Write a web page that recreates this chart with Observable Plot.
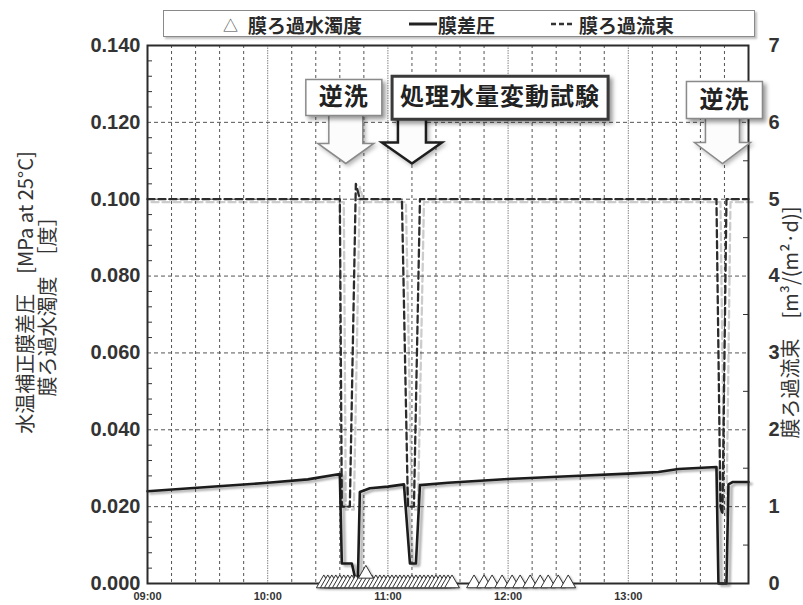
<!DOCTYPE html>
<html><head><meta charset="utf-8">
<script src="https://cdn.jsdelivr.net/npm/d3@7"></script>
<script src="https://cdn.jsdelivr.net/npm/@observablehq/plot@0.6"></script>
<style>
body{margin:0;background:#fff;}
#wrap{width:803px;position:relative;}
#legend{height:40px;position:relative;}
#legbox{position:absolute;left:163px;top:10px;width:592px;height:27px;border:1.5px solid #8a8a8a;box-sizing:border-box;box-shadow:2px 2px 2px rgba(0,0,0,0.25);font-family:"Noto Sans CJK JP";font-size:19px;font-weight:bold;color:#2a2a2a;background:#fff;}
.li{position:absolute;top:50%;transform:translateY(-50%);white-space:nowrap;line-height:1;}
g[aria-description="shadow-line"]{filter:drop-shadow(3px 2px 1.2px rgba(0,0,0,0.35));}
g[aria-description="shadow-flux"]{filter:drop-shadow(4px 3px 0.6px rgba(0,0,0,0.2));}
g[aria-description="note-box"]{filter:drop-shadow(3px 3px 2px rgba(0,0,0,0.4));}
g[aria-description="note-arrow"]{filter:drop-shadow(2px 2px 2px rgba(0,0,0,0.3));}
g[aria-description="note-text"] text{letter-spacing:1px;}
g[aria-description="turb"]{filter:drop-shadow(1px 1px 0.8px rgba(0,0,0,0.35));}
</style>
</head><body>
<div id="wrap">
  <div id="legend"><div id="legbox">
    <span class="li" style="left:59px;font-size:15px;font-weight:normal;color:#444;">△</span>
    <span class="li" style="left:84px;">膜ろ過水濁度</span>
    <span class="li" style="left:245px;"><svg width="28" height="6" style="display:block"><line x1="0" x2="28" y1="3" y2="3" stroke="#222" stroke-width="3"/></svg></span>
    <span class="li" style="left:274px;">膜差圧</span>
    <span class="li" style="left:387px;"><svg width="24" height="6" style="display:block"><line x1="0" x2="24" y1="3" y2="3" stroke="#333" stroke-width="2.5" stroke-dasharray="5,3"/></svg></span>
    <span class="li" style="left:415px;">膜ろ過流束</span>
  </div></div>
  <div id="chart"></div>
</div>
<script>
// ---- data ----
const pressureTimes = ["09:00","09:30","10:00","10:20","10:36","10:37","10:42","10:44","10:45","10:46","10:48","10:51","11:00","11:08","11:11","11:14","11:16","11:30","12:00","12:30","13:00","13:15","13:25","13:44","13:45","13:49","13:50","13:52","14:00"];
const pressureValues = [0.0240,0.0251,0.0262,0.0271,0.0285,0.0052,0.0052,0.0006,0.0006,0.0238,0.0242,0.0248,0.0252,0.0258,0.0052,0.0052,0.0256,0.0262,0.0272,0.0279,0.0286,0.0290,0.0298,0.0303,0.0000,0.0000,0.0258,0.0264,0.0264];

const fluxTimes = ["09:00","10:36","10:37","10:41","10:44","10:46","11:07","11:10","11:13","11:16","13:44","13:46","13:47","13:49","14:00"];
const fluxValues = [5.0,5.0,1.0,1.0,5.2,5.0,5.0,1.0,1.0,5.0,5.0,1.0,0.9,5.0,5.0];

const turbTimes = ["10:28","10:30","10:32","10:34","10:36","10:38","10:40","10:42","10:44","10:46","10:48","10:50","10:52","10:54","10:56","10:58","11:00","11:02","11:04","11:06","11:08","11:10","11:12","11:14","11:16","11:18","11:20","11:22","11:24","11:26","11:28","11:30","11:32","11:43","11:48","11:52","11:57","12:02","12:06","12:11","12:16","12:20","12:25","12:30","10:49"];
const turbValues = [0,0,0,0,0,0,0,0,0,0,0,0,0,0,0,0,0,0,0,0,0,0,0,0,0,0,0,0,0,0,0,0,0,0,0,0,0,0,0,0,0,0,0,0,0.0025];

const xTickLabels = ["09:00","10:00","11:00","12:00","13:00"];
const xGridMinor = ["09:12","09:24","09:36","09:48","10:12","10:24","10:36","10:48","11:12","11:24","11:36","11:48","12:12","12:24","12:36","12:48","13:12","13:24","13:36","13:48"];
const xGridHour = ["10:00","11:00","12:00","13:00"];
const yTicksLeft = [0,0.02,0.04,0.06,0.08,0.10,0.12,0.14];
const yTicksRight = [0,1,2,3,4,5,6,7];

const noteLabels = ["逆洗","処理水量変動試験","逆洗"];
const noteTimes = ["10:38","11:56","13:48"];
const noteValues = [0.1265,0.1264,0.1258];
const arrowTimes = ["10:39","11:12","13:47"];
const arrowValues = [0.1093,0.1093,0.1093];

const leftTitle1 = "水温補正膜差圧　[MPa at 25°C]";
const leftTitle2 = "膜ろ過水濁度　［度］";
const rightTitle = "膜ろ過流束　[m³/(m²·d)]";

// ---- build ----
const parse = d3.timeParse("%H:%M");
const pressure = pressureTimes.map((t,i)=>({t:parse(t), v:pressureValues[i]}));
const flux = fluxTimes.map((t,i)=>({t:parse(t), v:fluxValues[i]}));
const turb = turbTimes.map((t,i)=>({t:parse(t), v:turbValues[i]}));
const RATIO = 50; // right axis units per left axis unit

const plotW = 803-147-55;
const leftMinor = d3.range(0.004, 0.14, 0.004).filter(v => Math.abs(v/0.02 - Math.round(v/0.02)) > 1e-6);
const rightMinor = d3.range(0.5, 7, 1);

const boxSym = (w,h) => ({draw(c){c.moveTo(-w/2,-h/2);c.lineTo(w/2,-h/2);c.lineTo(w/2,h/2);c.lineTo(-w/2,h/2);c.closePath();}});
const arrowSym = (sw,hw,hh,L) => ({draw(c){c.moveTo(-sw,-L);c.lineTo(sw,-L);c.lineTo(sw,-hh);c.lineTo(hw,-hh);c.lineTo(0,0);c.lineTo(-hw,-hh);c.lineTo(-sw,-hh);c.closePath();}});
const boxSyms = [boxSym(76,36), boxSym(216,43), boxSym(76,37)];
const boxStroke = ["#8a8a8a","#3a3a3a","#8a8a8a"];
const boxStrokeW = [1.5,3,1.5];
const arrowSyms = [arrowSym(17,28,20,50), arrowSym(14,30,21,47), arrowSym(17,28,21,50)];
const arrowStroke = ["#8a8a8a","#1e1e1e","#8a8a8a"];
const arrowStrokeW = [1.5,2.5,1.5];

const noteMarks = [];
noteLabels.forEach((lab,i)=>{
  noteMarks.push(Plot.dot([i], {x: ()=>parse(arrowTimes[i]), y: ()=>arrowValues[i], r: 1, symbol: arrowSyms[i], fill: "#fcfcfc", stroke: arrowStroke[i], strokeWidth: arrowStrokeW[i], ariaDescription: "note-arrow"}));
});
noteLabels.forEach((lab,i)=>{
  noteMarks.push(Plot.dot([i], {x: ()=>parse(noteTimes[i]), y: ()=>noteValues[i], r: 1, symbol: boxSyms[i], fill: "#fff", stroke: boxStroke[i], strokeWidth: boxStrokeW[i], ariaDescription: "note-box"}));
});
noteMarks.push(Plot.text(noteLabels, {x: (d,i)=>parse(noteTimes[i]), y: (d,i)=>noteValues[i], text: d=>d, fontFamily: "Noto Sans CJK JP", fontWeight: "bold", fontSize: 24, fill: "#222", ariaDescription: "note-text"}));

const chart = Plot.plot({
  width: 803, height: 565,
  marginTop: 5, marginBottom: 22, marginLeft: 147, marginRight: 55,
  style: {fontFamily: "'Liberation Sans', Arial, sans-serif", background: "transparent", overflow: "visible"},
  x: {type: "time", domain: [parse("09:00"), parse("14:00")], axis: null},
  y: {domain: [0, 0.14], axis: null},
  marks: [
    Plot.ruleX(xGridMinor.map(parse), {stroke: "#555", strokeWidth: 1, strokeDasharray: "3,3"}),
    Plot.ruleX(xGridHour.map(parse), {stroke: "#777", strokeWidth: 0.9, strokeDasharray: "1.5,1"}),
    Plot.ruleY(yTicksLeft.filter(v => v > 0 && v < 0.14), {stroke: "#555", strokeWidth: 1, strokeDasharray: "4,3"}),
    Plot.tickY(leftMinor, {stroke: "#333", insetRight: plotW - 5}),
    Plot.tickY(rightMinor.map(v => v / RATIO), {stroke: "#333", insetLeft: plotW - 5}),
    Plot.line(flux, {x: "t", y: d => d.v / RATIO, stroke: "#2c2c2c", strokeWidth: 2.3, strokeDasharray: "7,4", ariaDescription: "shadow-flux"}),
    Plot.line(pressure, {x: "t", y: "v", stroke: "#1c1c1c", strokeWidth: 2.6, ariaDescription: "shadow-line"}),
    Plot.frame({stroke: "#2b2b2b", strokeWidth: 2}),
    Plot.dot(turb, {x: "t", y: "v", symbol: "triangle", r: 5.5, fill: "white", stroke: "#333", strokeWidth: 1, ariaDescription: "turb"}),
    Plot.axisY(yTicksLeft, {anchor: "left", tickSize: 0, tickPadding: 7, tickFormat: d3.format(".3f"), fontSize: 20, fontWeight: "bold", color: "#333", label: null}),
    Plot.axisY(yTicksRight.map(v => v / RATIO), {anchor: "right", tickSize: 0, tickPadding: 20, tickFormat: d => String(Math.round(d * RATIO)), fontSize: 20, fontWeight: "bold", color: "#333", label: null}),
    Plot.axisX(xTickLabels.map(parse), {anchor: "bottom", tickSize: 0, tickPadding: 9, tickFormat: d3.timeFormat("%H:%M"), fontSize: 11, fontWeight: "bold", color: "#333", label: null}),
    Plot.text([leftTitle1], {frameAnchor: "left", text: d => d, rotate: -90, dx: -121, dy: -22, textAnchor: "middle", lineAnchor: "middle", fontSize: 20, fontFamily: "Noto Sans CJK JP", fill: "#333"}),
    Plot.text([leftTitle2], {frameAnchor: "left", text: d => d, rotate: -90, dx: -99, dy: -13, textAnchor: "middle", lineAnchor: "middle", fontSize: 20, fontFamily: "Noto Sans CJK JP", fill: "#333"}),
    Plot.text([rightTitle], {frameAnchor: "right", text: d => d, rotate: -90, dx: 43, dy: 8, textAnchor: "middle", lineAnchor: "middle", fontSize: 20, fontFamily: "Noto Sans CJK JP", fill: "#333"}),
    ...noteMarks
  ]
});
document.getElementById("chart").appendChild(chart);
</script>
</body></html>
